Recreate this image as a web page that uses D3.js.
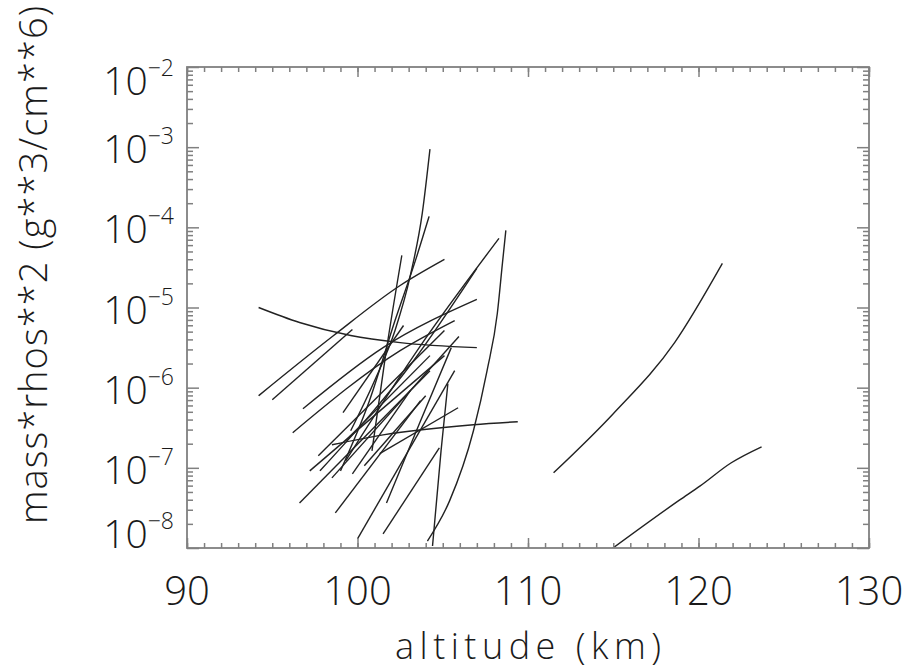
<!DOCTYPE html>
<html><head><meta charset="utf-8">
<script src="https://cdn.jsdelivr.net/npm/d3@7"></script>
<style>body{margin:0;background:#fff}svg{display:block}text{font-family:"Open Sans","DejaVu Sans",sans-serif;font-weight:300;fill:#1a1a1a}</style>
</head><body>
<svg id="c" width="909" height="671"></svg>
<script>
// Data: each profile is a list of [altitude_km, mass*rhos^2]
const profiles = [
  [[94.2,1.0e-5],[96.6,6.5e-6],[99.6,4.47e-6],[102.5,3.65e-6],[107.0,3.16e-6]],
  [[98.5,1.94e-7],[101.5,2.58e-7],[106.8,3.45e-7],[109.4,3.76e-7]],
  [[111.5,8.66e-8],[115.0,4.73e-7],[118.6,3.65e-6],[121.4,3.55e-5]],
  [[114.9,9.7e-9],[118.9,3.98e-8],[120.1,5.96e-8],[121.9,1.15e-7],[123.7,1.83e-7]],
  [[104.1,1.22e-8],[105.4,3.87e-8],[106.8,2.9e-7],[107.6,1.63e-6],[108.2,8.41e-6],[108.5,3.55e-5],[108.7,9.17e-5]],
  [[99.6,2.9e-7],[101.0,1.22e-6],[102.2,5.16e-6],[103.1,2.51e-5],[103.8,1.5e-4],[104.25,9.44e-4]],
  [[99.0,9.17e-8],[100.7,6.88e-7],[102.2,6.88e-6],[103.4,3.87e-5],[104.2,1.37e-4]],
  [[100.85,1.63e-7],[101.6,2.18e-6],[102.6,4.47e-5]],
  [[94.2,7.94e-7],[98.6,4.47e-6],[102.5,1.88e-5],[105.1,3.98e-5]],
  [[95.0,7.08e-7],[99.7,5.31e-6]],
  [[96.8,5.46e-7],[101.5,3.16e-6],[107.0,1.26e-5]],
  [[99.3,1.22e-7],[103.7,3.35e-6],[108.3,7.29e-5]],
  [[97.8,9.17e-8],[103.3,2.18e-6],[107.0,3.07e-5]],
  [[96.2,2.74e-7],[102.5,2.9e-6],[105.7,6.88e-6]],
  [[96.6,3.65e-8],[104.25,1.63e-6]],
  [[97.2,9.17e-8],[105.1,2.51e-6]],
  [[98.5,7.5e-8],[105.95,4.34e-6]],
  [[98.7,2.74e-8],[103.7,6.88e-7]],
  [[100.0,1.3e-8],[105.7,1.63e-6]],
  [[101.5,1.5e-8],[104.8,1.78e-7]],
  [[101.7,3.65e-8],[103.7,3.87e-7],[105.5,3.16e-6]],
  [[101.3,1.5e-7],[105.9,5.62e-7]],
  [[104.4,1.06e-8],[104.9,1.63e-7],[105.3,1.12e-6]],
  [[99.7,8.41e-8],[103.1,9.17e-7]],
  [[99.15,4.87e-7],[102.7,5.96e-6]],
  [[97.7,1.41e-7],[105.1,5.16e-6]],
  [[99.3,2.18e-7],[104.25,2.51e-6]],
  [[100.4,1.06e-7],[104.0,7.94e-7]]
];
const xMajor = [90,100,110,120,130];
const xMinor = d3.range(90,131,1);
const yMajor = [1e-8,1e-7,1e-6,1e-5,1e-4,1e-3,1e-2];
const yMajorExp = [-8,-7,-6,-5,-4,-3,-2];
const yMinor = [];
yMajorExp.slice(0,-1).forEach(e=>{for(let m=2;m<=9;m++) yMinor.push(m*Math.pow(10,e));});
const xTitle = "altitude (km)";
const yTitle = "mass*rhos**2 (g**3/cm**6)";

const L=187,R=869,T=67,B=548;
const svg=d3.select("#c");
const x=d3.scaleLinear().domain([90,130]).range([L,R]);
const y=d3.scaleLog().domain([1e-8,1e-2]).range([B,T]);

svg.append("defs").append("clipPath").attr("id","clip").append("rect")
  .attr("x",L).attr("y",T).attr("width",R-L).attr("height",B-T);

const line=d3.line().x(d=>x(d[0])).y(d=>y(d[1])).curve(d3.curveMonotoneX);
svg.append("g").attr("clip-path","url(#clip)").selectAll("path").data(profiles).join("path")
  .attr("d",line).attr("fill","none").attr("stroke","#222").attr("stroke-width",1.4);

function styleAxis(g){g.select(".domain").remove();g.selectAll("line").attr("stroke","#808080").attr("stroke-width",1.5);g.selectAll("text").remove();}
svg.append("g").attr("transform",`translate(0,${B})`).call(d3.axisBottom(x).tickValues(xMinor).tickSize(-5)).call(styleAxis);
svg.append("g").attr("transform",`translate(0,${B})`).call(d3.axisBottom(x).tickValues(xMajor).tickSize(-10)).call(styleAxis);
svg.append("g").attr("transform",`translate(0,${T})`).call(d3.axisTop(x).tickValues(xMinor).tickSize(-5)).call(styleAxis);
svg.append("g").attr("transform",`translate(0,${T})`).call(d3.axisTop(x).tickValues(xMajor).tickSize(-10)).call(styleAxis);
svg.append("g").attr("transform",`translate(${L},0)`).call(d3.axisLeft(y).tickValues(yMinor).tickSize(-6)).call(styleAxis);
svg.append("g").attr("transform",`translate(${L},0)`).call(d3.axisLeft(y).tickValues(yMajor).tickSize(-12)).call(styleAxis);
svg.append("g").attr("transform",`translate(${R},0)`).call(d3.axisRight(y).tickValues(yMinor).tickSize(-6)).call(styleAxis);
svg.append("g").attr("transform",`translate(${R},0)`).call(d3.axisRight(y).tickValues(yMajor).tickSize(-12)).call(styleAxis);
svg.append("rect").attr("x",L).attr("y",T).attr("width",R-L).attr("height",B-T)
  .attr("fill","none").attr("stroke","#808080").attr("stroke-width",1.8);

// x tick labels
svg.append("g").selectAll("text").data(xMajor).join("text")
  .attr("x",d=>x(d)).attr("y",605).attr("text-anchor","middle").attr("font-size",40).text(d=>d);
// y tick labels
const yl=svg.append("g").selectAll("text").data(yMajorExp).join("text")
  .attr("x",174).attr("y",(d,i)=>y(yMajor[i])+(d===-2?28:d===-8?0:16)).attr("text-anchor","end");
yl.append("tspan").attr("font-size",39).text("10");
yl.append("tspan").attr("font-size",23).attr("dy",-19).text(d=>"\u2212"+Math.abs(d));

// titles
svg.append("text").attr("x",(L+R)/2).attr("y",659).attr("text-anchor","middle").attr("font-size",36)
  .attr("textLength",266).attr("lengthAdjust","spacing").text(xTitle);
svg.append("text").attr("transform","translate(47,265) rotate(-90)").attr("text-anchor","middle").attr("font-size",38)
  .attr("textLength",518).attr("lengthAdjust","spacing").text(yTitle);
</script>
</body></html>
